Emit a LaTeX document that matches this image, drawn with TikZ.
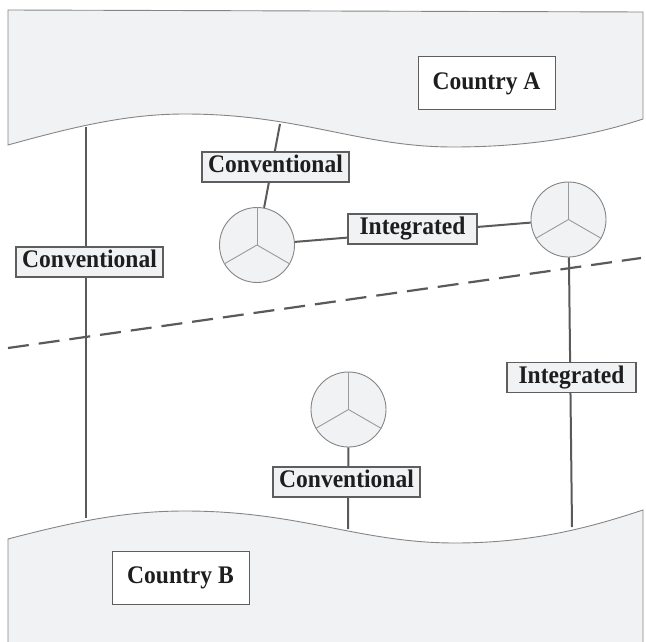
\documentclass[tikz,border=0pt]{standalone}
\usepackage{fontspec}
\setmainfont{Liberation Serif}[FakeStretch=0.93]
\definecolor{landfill}{HTML}{F1F2F4}
\definecolor{landline}{HTML}{858585}
\definecolor{conline}{HTML}{5A5A5A}
\definecolor{boxline}{HTML}{5E5E5E}
\definecolor{spoke}{HTML}{9A9A9A}
\definecolor{inktext}{HTML}{1E1E1E}
\begin{document}
\begin{tikzpicture}[x=1pt,y=-1pt,
  land/.style={draw=landline,line width=0.9pt,fill=landfill},
  conn/.style={draw=conline,line width=2pt},
  lbl/.style={draw=boxline,line width=1.1pt,fill=landfill,text=inktext,font=\fontsize{25.3}{29}\selectfont\bfseries,
    text height=17pt,text depth=5.5pt,minimum height=30pt,inner xsep=0pt,inner ysep=0pt},
  convlbl/.style={lbl,minimum width=147pt},
  intlbl/.style={lbl,minimum width=129pt},
  country/.style={draw=boxline,line width=1pt,fill=white,text=inktext,font=\fontsize{25.3}{29}\selectfont\bfseries,
    minimum width=137pt,minimum height=53pt,inner sep=0pt,text height=17pt,text depth=5.5pt},
  hub/.style={circle,draw=landline,line width=0.9pt,fill=landfill,minimum size=75pt,inner sep=0pt},
  spk/.style={draw=spoke,line width=0.9pt}]
\useasboundingbox (0,0) rectangle (646,642);
\clip (0,0) rectangle (646,642);
% Country A land
\path[land] (8,10) -- (643,12) -- (643,119)
  .. controls (600,133) and (540,147) .. (453,147)
  .. controls (360,147) and (300,114) .. (185,114)
  .. controls (130,114) and (80,125) .. (8,145) -- cycle;
% Country B land
\path[land] (8,660) -- (8,539)
  .. controls (80,520) and (130,511) .. (185,511)
  .. controls (300,511) and (360,543) .. (455,543)
  .. controls (540,543) and (600,524) .. (643,510) -- (643,660) -- cycle;
% border
\coordinate (dl) at (8,348);
\coordinate (dr) at (641,258);
\draw[draw=conline,line width=2.2pt,dash pattern=on 21pt off 10pt] (dl) -- (dr);
% attachment points
\coordinate (aL) at (86,127);
\coordinate (bL) at (86,518);
\coordinate (aM) at (280,124);
\coordinate (bM) at (348,529);
\coordinate (bR) at (572,527);
% hubs
\node[hub] (c1) at (257,245) {};
\node[hub] (c2) at (568.5,219.5) {};
\node[hub] (c3) at (348.5,409.5) {};
\foreach \c in {c1,c2,c3}{
  \draw[spk] (\c.center) -- (\c.north);
  \draw[spk] (\c.center) -- (\c.-150);
  \draw[spk] (\c.center) -- (\c.-30);
}
% connectors
\draw[conn] (aL) -- (bL);
\draw[conn] (c1) -- (aM);
\draw[conn] (c1) -- (c2);
\draw[conn] (c2) -- (bR);
\draw[conn] (c3) -- (bM);
% labels
\node[convlbl] (l1) at (89.5,262) {Conventional};
\node[convlbl] (l2) at (275.5,167) {Conventional};
\node[intlbl] (l3) at (412.5,229) {Integrated};
\node[intlbl] (l4) at (571.5,377.5) {Integrated};
\node[convlbl] (l5) at (346.5,482) {Conventional};
% country boxes
\node[country] (ca) at (486.5,83.5) {Country A};
\node[country] (cb) at (180.5,578) {Country B};
\end{tikzpicture}
\end{document}
